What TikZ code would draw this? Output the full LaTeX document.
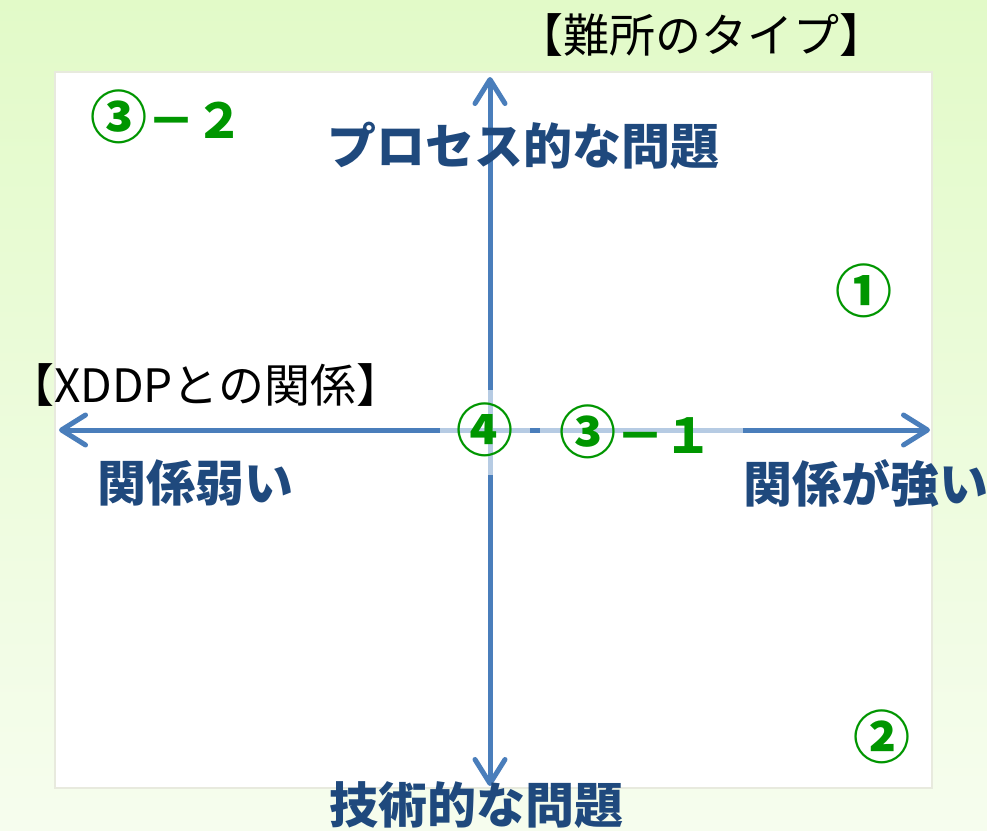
\documentclass[tikz,border=0pt]{standalone}
\usepackage{fontspec}
\newfontfamily\jp{Noto Sans CJK JP}
\usetikzlibrary{arrows.meta}
\newcommand\circnum[1]{{\fontsize{57}{60}\selectfont #1}}
\definecolor{bgtop}{RGB}{226,250,200}
\definecolor{bgbot}{RGB}{246,253,238}
\definecolor{axisblue}{RGB}{74,126,187}
\definecolor{labelblue}{RGB}{31,73,125}
\definecolor{mkgreen}{RGB}{0,150,0}
\definecolor{frame}{RGB}{232,234,222}
\tikzset{
  axisline/.style={draw=axisblue, line width=5pt, line cap=round,
    -{Straight Barb[length=24pt,width=30pt,line width=5pt,round]}},
  biglabel/.style={text=labelblue, font=\jp\bfseries\fontsize{49}{53}\selectfont, inner sep=0pt},
  marker/.style={text=mkgreen, font=\jp\bfseries\fontsize{48}{52}\selectfont, inner sep=0pt},
  titlelabel/.style={text=black, font=\jp\fontsize{46}{50}\selectfont, inner sep=0pt},
  veil/.style={fill=white, fill opacity=0.6, draw=none, inner sep=0pt},
}
\begin{document}
\begin{tikzpicture}[x=1pt,y=-1pt]
\useasboundingbox (0,0) rectangle (987,830);
\shade[top color=bgtop, bottom color=bgbot] (0,0) rectangle (987,830);
\node[draw=frame, line width=1.5pt, fill=white, minimum width=877pt, minimum height=716pt, inner sep=0pt] (panel) at (493.5,430) {};
\coordinate (C) at (490,430);
\coordinate (T) at (490,77);
\coordinate (B) at (490,786);
\coordinate (L) at (59,430);
\coordinate (R) at (930,430);
\draw[axisline] (C) -- (T);
\draw[axisline] (C) -- (B);
\draw[axisline] (C) -- (L);
\draw[axisline] (C) -- (R);
\node[veil, minimum width=90pt, minimum height=85pt] (veilA) at (485,432) {};
\node[veil, minimum width=203pt, minimum height=85pt] (veilB) at (641.5,432) {};
\node[titlelabel] (ttype) at (701,35) {【難所のタイプ】};
\node[titlelabel, anchor=west] (trel) at (8,385) {【XDDPとの関係】};
\node[biglabel] (proc) at (523,146) {プロセス的な問題};
\node[biglabel] (tech) at (476,805) {技術的な問題};
\node[biglabel] (weak) at (195,483) {関係弱い};
\node[biglabel] (strong) at (866,483) {関係が強い};
\node[marker] (m32) at (167,117) {\circnum{③}－２};
\node[marker] (m1) at (864,291) {\circnum{①}};
\node[marker] (m2) at (882,737) {\circnum{②}};
\node[marker] (m4) at (485,430) {\circnum{④}};
\node[marker] (m31) at (636,432) {\circnum{③}－１};
\end{tikzpicture}
\end{document}
